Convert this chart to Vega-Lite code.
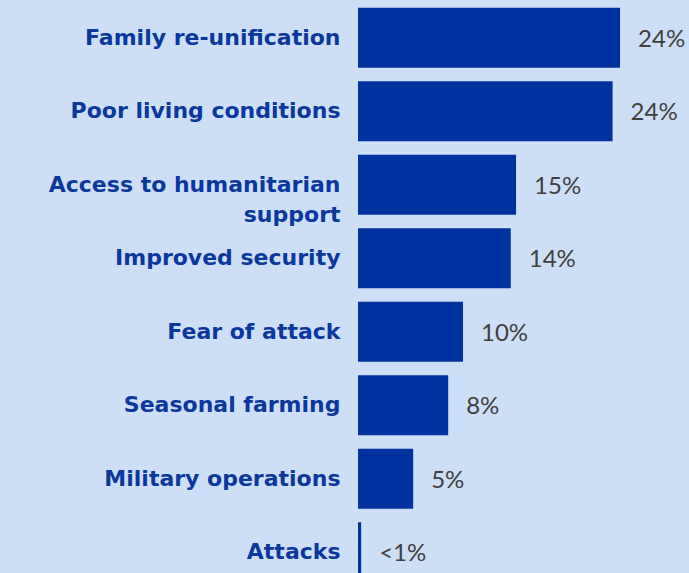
{
  "$schema": "https://vega.github.io/schema/vega-lite/v6.json",
  "width": 331,
  "height": 572,
  "autosize": {"type": "none"},
  "padding": {"left": 358, "top": 1, "right": 0, "bottom": 0},
  "background": "#cddff6",
  "config": {"view": {"stroke": null}},
  "data": {
    "values": [
      {"reason": "Family re-unification", "share": 24.7, "label": "24%"},
      {"reason": "Poor living conditions", "share": 24.0, "label": "24%"},
      {"reason": "Access to humanitarian support", "share": 14.9, "label": "15%"},
      {"reason": "Improved security", "share": 14.4, "label": "14%"},
      {"reason": "Fear of attack", "share": 9.9, "label": "10%"},
      {"reason": "Seasonal farming", "share": 8.5, "label": "8%"},
      {"reason": "Military operations", "share": 5.2, "label": "5%"},
      {"reason": "Attacks", "share": 0.3, "label": "<1%"}
    ]
  },
  "encoding": {
    "y": {
      "field": "reason",
      "type": "nominal",
      "sort": null,
      "scale": {"range": [0, 588], "paddingInner": 0.184, "paddingOuter": 0.092},
      "axis": {
        "title": null,
        "domain": false,
        "ticks": false,
        "grid": false,
        "labelPadding": 18,
        "labelFont": "DejaVu Sans",
        "labelFontWeight": "bold",
        "labelFontSize": 22,
        "labelColor": "#0a389c",
        "labelLimit": 400,
        "labelLineHeight": 30,
        "labelExpr": "datum.value == 'Access to humanitarian support' ? ['Access to humanitarian', 'support'] : datum.label"
      }
    },
    "x": {
      "field": "share",
      "type": "quantitative",
      "scale": {"domain": [0, 31.2], "nice": false},
      "axis": null
    }
  },
  "layer": [
    {"mark": {"type": "bar", "color": "#0033a0"}},
    {
      "mark": {"type": "text", "align": "left", "baseline": "middle", "dx": 18, "dy": 2, "font": "Lato", "fontSize": 24, "color": "#404040"},
      "encoding": {"text": {"field": "label"}}
    }
  ]
}
